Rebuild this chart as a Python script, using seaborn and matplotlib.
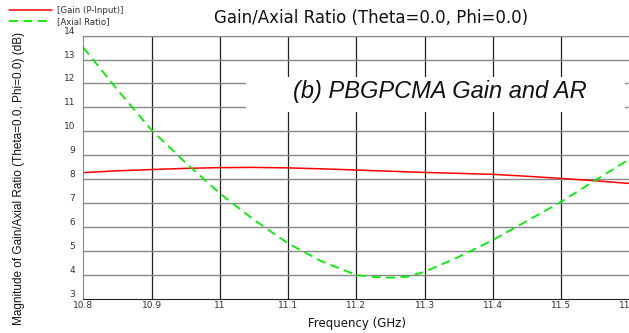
import matplotlib
matplotlib.use("Agg")
import matplotlib.pyplot as plt
import seaborn as sns
import pandas as pd
from matplotlib.patches import Rectangle
from matplotlib.lines import Line2D

# values
freq_gain = [10.80, 10.85, 10.90, 10.95, 11.00, 11.05, 11.10, 11.15, 11.20,
             11.25, 11.30, 11.35, 11.40, 11.45, 11.50, 11.55, 11.60]
gain_db = [8.27, 8.35, 8.40, 8.45, 8.48, 8.49, 8.47, 8.43, 8.38,
           8.33, 8.28, 8.24, 8.20, 8.12, 8.03, 7.93, 7.82]

freq_ar = [10.80, 10.85, 10.90, 10.95, 11.00, 11.05, 11.10, 11.15, 11.20,
           11.225, 11.25, 11.275, 11.30, 11.35, 11.40, 11.45, 11.50, 11.55, 11.60]
axial_ratio = [13.5, 11.73, 10.05, 8.68, 7.4, 6.3, 5.31, 4.55, 3.99,
               3.91, 3.88, 3.92, 4.12, 4.75, 5.45, 6.25, 7.05, 7.95, 8.83]

x_ticks = [10.8, 10.9, 11.0, 11.1, 11.2, 11.3, 11.4, 11.5, 11.6]
x_tick_labels = ["10.8", "10.9", "11", "11.1", "11.2", "11.3", "11.4", "11.5", "11.6"]
y_ticks = list(range(3, 15))

gain_df = pd.DataFrame({"freq": freq_gain, "value": gain_db})
ar_df = pd.DataFrame({"freq": freq_ar, "value": axial_ratio})

sns.set_style("white")
plt.rcParams["font.family"] = ["DejaVu Sans"]

fig = plt.figure(figsize=(6.29, 3.33), dpi=100)
ax = fig.add_axes([0.1326, 0.103, 0.8679, 0.79])

sns.lineplot(data=gain_df, x="freq", y="value", ax=ax, color="#ff0000", lw=1.1)
sns.lineplot(data=ar_df, x="freq", y="value", ax=ax, color="#00ee00", lw=1.3,
             linestyle=(0, (5, 3)))

ax.set_xlim(10.8, 11.6)
ax.set_ylim(3, 14)
ax.set_xticks(x_ticks)
ax.set_xticklabels(x_tick_labels)
ax.set_yticks(y_ticks)
ax.set_xlabel("")
ax.set_ylabel("")
ax.tick_params(axis="both", length=0, labelsize=6.5, labelcolor="#333333")
ax.tick_params(axis="y", pad=6)
ax.tick_params(axis="x", pad=2)
for lbl in ax.get_yticklabels():
    lbl.set_verticalalignment("bottom")

# grid: dark verticals, gray horizontals
ax.grid(False)
for x in x_ticks[1:-1]:
    ax.axvline(x, color="#222222", lw=0.9, zorder=0)
for y in y_ticks[1:]:
    ax.axhline(y, color="#888888", lw=1.0, zorder=0)

for side in ["left", "top"]:
    ax.spines[side].set_color("#888888")
ax.spines["bottom"].set_color("#222222")
ax.spines["right"].set_visible(False)

# annotation box covering the grid
ax.add_patch(Rectangle((0.298, 0.711), 0.694, 0.133, transform=ax.transAxes,
                       facecolor="white", edgecolor="none", zorder=1))
ax.text(0.653, 0.787, "(b) PBGPCMA Gain and AR", transform=ax.transAxes,
        ha="center", va="center", fontsize=17, style="italic",
        family=["Liberation Sans", "DejaVu Sans"], color="#111111", zorder=2)

fig.text(0.59, 0.946, "Gain/Axial Ratio (Theta=0.0, Phi=0.0)", ha="center",
         va="center", fontsize=12, color="#111111")
fig.text(0.568, 0.03, "Frequency (GHz)", ha="center", va="center", fontsize=8.5,
         color="#111111")
fig.text(0.03, 0.465, "Magnitude of Gain/Axial Ratio (Theta=0.0, Phi=0.0) (dB)",
         rotation=90, ha="center", va="center", fontsize=8.5,
         family=["Liberation Sans", "DejaVu Sans"], color="#111111")

handles = [Line2D([], [], color="#ff0000", lw=1.1),
           Line2D([], [], color="#00ee00", lw=1.3, linestyle=(0, (5, 3)))]
fig.legend(handles, ["[Gain (P-Input)]", "[Axial Ratio]"], loc="upper left",
           bbox_to_anchor=(0.005, 1.0), frameon=False, fontsize=6.2,
           handlelength=5, handletextpad=0.5, labelspacing=0.25,
           borderaxespad=0.3, labelcolor="#333333")

fig.savefig("out.png", dpi=100)
